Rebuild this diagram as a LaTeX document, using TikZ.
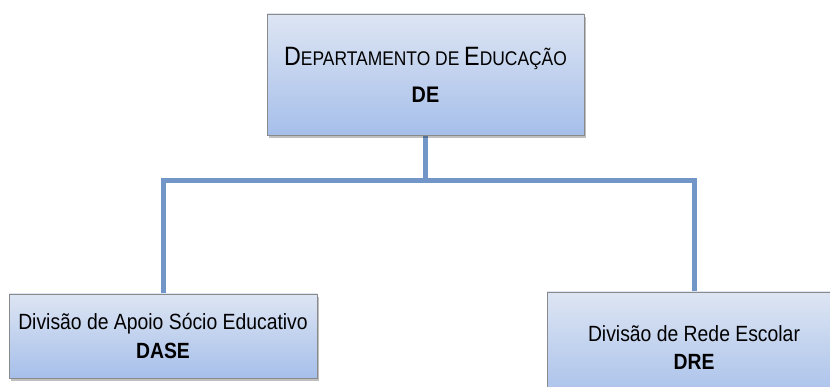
\documentclass[tikz,border=0pt]{standalone}
\usepackage{fontspec}
\setmainfont{Liberation Sans}[FakeStretch=0.88]
\usetikzlibrary{shadows,backgrounds}
\definecolor{boxtop}{HTML}{DDE5F3}
\definecolor{boxbot}{HTML}{A6BFEA}
\definecolor{linec}{HTML}{7396C8}
\definecolor{boxedge}{HTML}{8A8A8A}
\newcommand{\capbig}[1]{{\fontsize{26.5}{36}\selectfont #1}}
\begin{document}
\begin{tikzpicture}[x=1pt,y=-1pt,
  orgbox/.style={draw=boxedge, line width=0.8pt, top color=boxtop, bottom color=boxbot,
    drop shadow={shadow xshift=2pt, shadow yshift=-3pt, fill=black, opacity=0.25},
    inner sep=0pt, align=center},
  conn/.style={draw=linec, line width=5pt}]
\useasboundingbox (0,0) rectangle (830,387);
\node[orgbox, minimum width=317pt, minimum height=121pt, font=\fontsize{19.8}{37}\selectfont] (top) at (425.5,74.5)
  {\capbig{D}EPARTAMENTO DE \capbig{E}DUCAÇÃO\\ {\fontsize{22.5}{37}\selectfont\bfseries DE}};
\node[orgbox, minimum width=308pt, minimum height=84pt, font=\fontsize{22}{29}\selectfont] (left) at (163,336)
  {Divisão de Apoio Sócio Educativo\\ \bfseries DASE};
\node[orgbox, minimum width=294pt, minimum height=112pt, font=\fontsize{22}{28}\selectfont] (right) at (694,348)
  {Divisão de Rede Escolar\\ \bfseries DRE};
\coordinate (bus) at (425.5,181);
\begin{scope}[on background layer]
\draw[conn] (top.south) -- (bus);
\draw[conn] (left.north) |- (bus) -| (right.north);
\end{scope}
\end{tikzpicture}
\end{document}
